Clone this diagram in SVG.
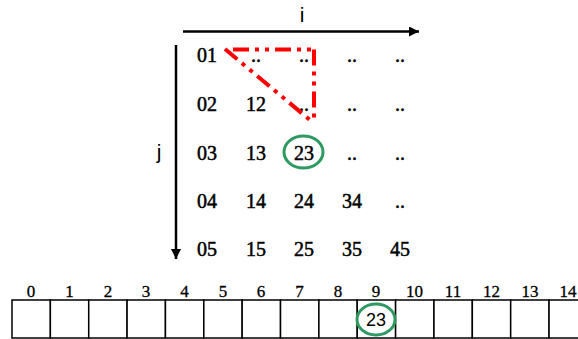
<svg xmlns="http://www.w3.org/2000/svg" width="578" height="339" viewBox="0 0 578 339">
  <defs>
    <marker id="arrow" viewBox="0 0 10 10" refX="10" refY="5" markerWidth="4" markerHeight="4" orient="auto" markerUnits="strokeWidth">
      <path d="M0,0 L10,5 L0,10 Z" fill="#000"/>
    </marker>
    <style>
      .cell { font-family: "Liberation Serif", "DejaVu Serif", serif; font-size: 20px; fill: #000; stroke: #000; stroke-width: 0.5; text-anchor: middle; }
      .axis { stroke: #000; stroke-width: 2.5; fill: none; }
      .axlabel { font-family: "Liberation Sans", Arial, sans-serif; font-size: 21px; fill: #000; text-anchor: middle; }
      .path { stroke: #ff0000; stroke-width: 4; fill: none; stroke-dasharray: 16 6 4 6 4 6; }
      .mark { stroke: #2e9a62; stroke-width: 3; fill: none; }
      .box { stroke: #000; stroke-width: 1.5; fill: #fff; }
      .idx { font-family: "Liberation Serif", "DejaVu Serif", serif; font-size: 17px; fill: #000; stroke: #000; stroke-width: 0.3; text-anchor: middle; }
      .val { font-family: "Liberation Sans", Arial, sans-serif; font-size: 18px; fill: #000; text-anchor: middle; }
    </style>
  </defs>

  <!-- axes -->
  <g id="axes">
    <line class="axis" x1="183" y1="31.5" x2="419" y2="31.5" marker-end="url(#arrow)"/>
    <text class="axlabel" x="302" y="22">i</text>
    <line class="axis" x1="176" y1="45" x2="176" y2="259" marker-end="url(#arrow)"/>
    <text class="axlabel" x="159" y="159">j</text>
  </g>

  <!-- index table -->
  <g id="grid">
    <text class="cell" x="207" y="62">01</text>
    <text class="cell" x="256" y="62">..</text>
    <text class="cell" x="304" y="62">..</text>
    <text class="cell" x="352" y="62">..</text>
    <text class="cell" x="400" y="62">..</text>

    <text class="cell" x="207" y="111">02</text>
    <text class="cell" x="256" y="111">12</text>
    <text class="cell" x="304" y="111">..</text>
    <text class="cell" x="352" y="111">..</text>
    <text class="cell" x="400" y="111">..</text>

    <text class="cell" x="207" y="160">03</text>
    <text class="cell" x="256" y="160">13</text>
    <text class="cell" x="304" y="160">23</text>
    <text class="cell" x="352" y="160">..</text>
    <text class="cell" x="400" y="160">..</text>

    <text class="cell" x="207" y="208">04</text>
    <text class="cell" x="256" y="208">14</text>
    <text class="cell" x="304" y="208">24</text>
    <text class="cell" x="352" y="208">34</text>
    <text class="cell" x="400" y="208">..</text>

    <text class="cell" x="207" y="256">05</text>
    <text class="cell" x="256" y="256">15</text>
    <text class="cell" x="304" y="256">25</text>
    <text class="cell" x="352" y="256">35</text>
    <text class="cell" x="400" y="256">45</text>
  </g>

  <!-- traversal path -->
  <g id="connectors">
    <line class="path" x1="233" y1="49.5" x2="315" y2="49.5"/>
    <line class="path" x1="314" y1="49.5" x2="314" y2="122"/>
    <line class="path" x1="225" y1="49" x2="310" y2="120"/>
  </g>

  <!-- highlighted entry -->
  <g id="highlight-grid">
    <ellipse class="mark" cx="303.5" cy="152" rx="19.5" ry="16"/>
  </g>

  <!-- flattened array -->
  <g id="array">
    <rect class="box" x="12" y="300" width="38.36" height="38"/>
    <rect class="box" x="50.36" y="300" width="38.36" height="38"/>
    <rect class="box" x="88.72" y="300" width="38.36" height="38"/>
    <rect class="box" x="127.08" y="300" width="38.36" height="38"/>
    <rect class="box" x="165.44" y="300" width="38.36" height="38"/>
    <rect class="box" x="203.8" y="300" width="38.36" height="38"/>
    <rect class="box" x="242.16" y="300" width="38.36" height="38"/>
    <rect class="box" x="280.52" y="300" width="38.36" height="38"/>
    <rect class="box" x="318.88" y="300" width="38.36" height="38"/>
    <rect class="box" x="357.24" y="300" width="38.36" height="38"/>
    <rect class="box" x="395.6" y="300" width="38.36" height="38"/>
    <rect class="box" x="433.96" y="300" width="38.36" height="38"/>
    <rect class="box" x="472.32" y="300" width="38.36" height="38"/>
    <rect class="box" x="510.68" y="300" width="38.36" height="38"/>
    <rect class="box" x="549.04" y="300" width="38.36" height="38"/>

    <text class="idx" x="31" y="297">0</text>
    <text class="idx" x="69.5" y="297">1</text>
    <text class="idx" x="108" y="297">2</text>
    <text class="idx" x="146" y="297">3</text>
    <text class="idx" x="184.5" y="297">4</text>
    <text class="idx" x="223" y="297">5</text>
    <text class="idx" x="261" y="297">6</text>
    <text class="idx" x="299.5" y="297">7</text>
    <text class="idx" x="338" y="297">8</text>
    <text class="idx" x="376" y="297">9</text>
    <text class="idx" x="414.5" y="297">10</text>
    <text class="idx" x="453" y="297">11</text>
    <text class="idx" x="491.5" y="297">12</text>
    <text class="idx" x="530" y="297">13</text>
    <text class="idx" x="568" y="297">14</text>

    <text class="val" x="376" y="326">23</text>
    <ellipse class="mark" cx="376" cy="319.5" rx="19" ry="15.5"/>
  </g>
</svg>
